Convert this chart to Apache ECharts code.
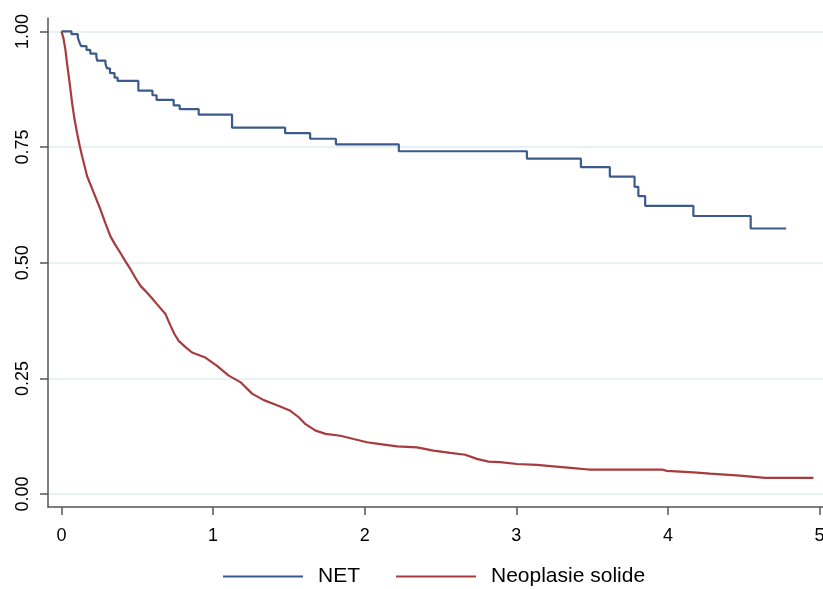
<!DOCTYPE html>
<html>
<head>
<meta charset="utf-8">
<script src="https://cdn.jsdelivr.net/npm/echarts@6/dist/echarts.min.js"></script>
<style>
html,body{margin:0;padding:0;background:#fff;}
#chart{width:823px;height:589px;}
</style>
</head>
<body>
<div id="chart"></div>
<script>
// Series names
const seriesNames = ['NET', 'Neoplasie solide'];
// Tick values
const xTicks = [0, 1, 2, 3, 4, 5];
const yTicks = [0, 0.25, 0.5, 0.75, 1];
// NET: [time, survival]
const netData = [[0,1],[0.066,0.994],[0.108,0.986],[0.12,0.975],[0.13,0.968],[0.165,0.96],[0.19,0.952],[0.23,0.945],[0.235,0.937],[0.29,0.93],[0.30,0.92],[0.32,0.91],[0.35,0.90],[0.37,0.893],[0.507,0.872],[0.60,0.862],[0.627,0.852],[0.74,0.84],[0.78,0.832],[0.905,0.82],[1.125,0.792],[1.475,0.78],[1.64,0.768],[1.81,0.756],[2.225,0.741],[3.07,0.725],[3.426,0.7065],[3.617,0.686],[3.78,0.664],[3.805,0.644],[3.85,0.623],[4.168,0.601],[4.546,0.574],[4.78,0.574]];
// Neoplasie solide: [time, survival]
const solidData = [[0,1],[0.013,0.985],[0.026,0.96],[0.037,0.93],[0.048,0.903],[0.06,0.872],[0.07,0.845],[0.086,0.81],[0.103,0.78],[0.12,0.753],[0.136,0.73],[0.169,0.687],[0.213,0.651],[0.257,0.615],[0.29,0.585],[0.323,0.557],[0.356,0.538],[0.389,0.521],[0.422,0.503],[0.455,0.486],[0.488,0.467],[0.521,0.45],[0.565,0.435],[0.6,0.422],[0.631,0.41],[0.686,0.389],[0.719,0.364],[0.745,0.346],[0.773,0.331],[0.82,0.317],[0.861,0.306],[0.949,0.295],[1.026,0.277],[1.103,0.256],[1.18,0.242],[1.257,0.217],[1.334,0.203],[1.422,0.192],[1.51,0.18],[1.565,0.166],[1.61,0.151],[1.676,0.137],[1.742,0.13],[1.84,0.126],[1.927,0.119],[2.015,0.112],[2.103,0.108],[2.213,0.103],[2.345,0.101],[2.454,0.094],[2.564,0.089],[2.663,0.085],[2.74,0.076],[2.817,0.07],[2.894,0.069],[3.004,0.065],[3.136,0.063],[3.245,0.06],[3.377,0.056],[3.476,0.053],[3.96,0.053],[3.993,0.05],[4.168,0.047],[4.278,0.044],[4.476,0.04],[4.641,0.035],[4.96,0.035]];

const FONT = 'Liberation Sans, Arial, sans-serif';
const chart = echarts.init(document.getElementById('chart'), null, {renderer: 'canvas'});
chart.setOption({
  animation: false,
  backgroundColor: '#ffffff',
  grid: {left: 48, right: 0, top: 18, bottom: 82, containLabel: false, outerBoundsMode: 'none'},
  legend: {
    left: 223, top: 566, padding: 0,
    icon: 'rect', itemWidth: 80, itemHeight: 2, itemGap: 36,
    textStyle: {fontFamily: FONT, fontSize: 21, color: '#000', padding: [0,0,0,10]},
    data: seriesNames
  },
  xAxis: {
    type: 'value', min: -0.089, max: 5.023,
    axisLine: {show: true, onZero: false, lineStyle: {color: '#555', width: 1.5}},
    axisTick: {show: true, length: 8, lineStyle: {color: '#555', width: 1.5}, customValues: xTicks},
    axisLabel: {customValues: xTicks, fontFamily: FONT, fontSize: 18, color: '#000', margin: 20, formatter: v => String(v)},
    splitLine: {show: false}
  },
  yAxis: {
    type: 'value', min: -0.028, max: 1.029,
    axisLine: {show: true, onZero: false, lineStyle: {color: '#555', width: 1.5}},
    axisTick: {show: true, length: 8, lineStyle: {color: '#555', width: 1.5}, customValues: yTicks},
    axisLabel: {customValues: yTicks, rotate: 90, fontFamily: FONT, fontSize: 18, color: '#000', margin: 16, formatter: v => v.toFixed(2)},
    splitLine: {show: true, lineStyle: {color: '#e9f1f2', width: 2}}
  },
  series: [
    {name: seriesNames[0], type: 'line', step: 'end', data: netData, showSymbol: false, symbol: 'none',
     lineStyle: {color: '#3b5b8c', width: 2.2}, itemStyle: {color: '#3b5b8c'}, z: 3},
    {name: seriesNames[1], type: 'line', data: solidData, showSymbol: false, symbol: 'none',
     lineStyle: {color: '#a83b3d', width: 2.2}, itemStyle: {color: '#a83b3d'}, z: 2}
  ]
});
</script>
</body>
</html>
